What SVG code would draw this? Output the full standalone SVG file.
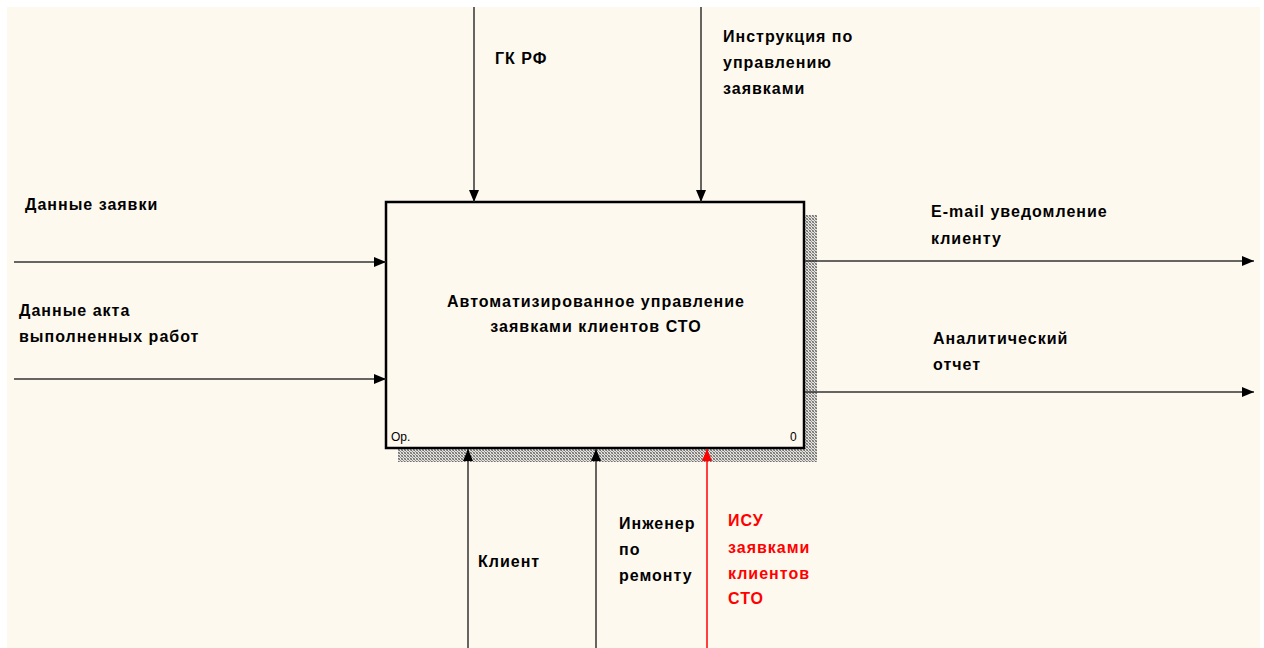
<svg xmlns="http://www.w3.org/2000/svg" width="1264" height="648" viewBox="0 0 1264 648">
  <style>
    .lbl { font-family: "Liberation Sans", Arial, sans-serif; font-weight: bold; font-size: 16px; letter-spacing: 1px; fill: #000; }
    .red { fill: #ff0000; }
    .small { font-family: "Liberation Sans", Arial, sans-serif; font-size: 12px; fill: #000; }
    .arrow { stroke: #333; stroke-width: 1.5; fill: none; }
    .arrow-red { stroke: #ff0000; stroke-width: 1.5; fill: none; }
  </style>
  <defs>
    <pattern id="hatch" width="3" height="3" patternUnits="userSpaceOnUse">
      <rect width="3" height="3" fill="#e6e3dc"/>
      <rect x="0" y="0" width="1" height="1" fill="#707070"/>
      <rect x="1" y="1" width="1" height="1" fill="#909090"/>
      <rect x="2" y="2" width="1" height="1" fill="#707070"/>
      <rect x="2" y="0" width="1" height="1" fill="#a0a0a0"/>
      <rect x="0" y="2" width="1" height="1" fill="#a0a0a0"/>
    </pattern>
    <marker id="ah" viewBox="0 0 12 10" refX="12" refY="5" markerWidth="12" markerHeight="10" markerUnits="userSpaceOnUse" orient="auto">
      <path d="M0,0 L12,5 L0,10 Z" fill="#000"/>
    </marker>
    <marker id="ahRed" viewBox="0 0 12 10" refX="12" refY="5" markerWidth="12" markerHeight="10" markerUnits="userSpaceOnUse" orient="auto">
      <path d="M0,0 L12,5 L0,10 Z" fill="#ff0000"/>
    </marker>
  </defs>

  <!-- page -->
  <rect width="1264" height="648" fill="#ffffff"/>
  <rect x="7" y="7" width="1253" height="641" fill="#fef9ef"/>

  <!-- activity box A0 -->
  <g id="node-a0">
    <rect x="805" y="215" width="12" height="247" fill="url(#hatch)"/>
    <rect x="398" y="449" width="419" height="13" fill="url(#hatch)"/>
    <rect x="386" y="202" width="418" height="246" fill="#fef9ef" stroke="#000" stroke-width="2.5"/>
    <text class="lbl" x="596" y="307" text-anchor="middle">Автоматизированное управление</text>
    <text class="lbl" x="596" y="332" text-anchor="middle">заявками клиентов СТО</text>
    <text class="small" x="391" y="441">Ор.</text>
    <text class="small" x="790" y="441">0</text>
  </g>

  <!-- connectors -->
  <g id="connectors">
    <line class="arrow" x1="474" y1="7" x2="474" y2="202" marker-end="url(#ah)"/>
    <line class="arrow" x1="701" y1="7" x2="701" y2="202" marker-end="url(#ah)"/>
    <line class="arrow" x1="14" y1="262" x2="386" y2="262" marker-end="url(#ah)"/>
    <line class="arrow" x1="14" y1="379" x2="386" y2="379" marker-end="url(#ah)"/>
    <line class="arrow" x1="805" y1="261" x2="1254" y2="261" marker-end="url(#ah)"/>
    <line class="arrow" x1="805" y1="392" x2="1254" y2="392" marker-end="url(#ah)"/>
    <line class="arrow" x1="468" y1="648" x2="468" y2="449" marker-end="url(#ah)"/>
    <line class="arrow" x1="596" y1="648" x2="596" y2="449" marker-end="url(#ah)"/>
    <line class="arrow-red" x1="707" y1="648" x2="707" y2="449" marker-end="url(#ahRed)"/>
  </g>

  <!-- control labels -->
  <g id="ctrl-gk">
    <text class="lbl" x="495" y="64">ГК РФ</text>
  </g>
  <g id="ctrl-instr">
    <text class="lbl" x="723" y="42">Инструкция по</text>
    <text class="lbl" x="723" y="68">управлению</text>
    <text class="lbl" x="723" y="94">заявками</text>
  </g>

  <!-- input labels -->
  <g id="in-request">
    <text class="lbl" x="25" y="210">Данные заявки</text>
  </g>
  <g id="in-act">
    <text class="lbl" x="19" y="316">Данные акта</text>
    <text class="lbl" x="19" y="342">выполненных работ</text>
  </g>

  <!-- output labels -->
  <g id="out-email">
    <text class="lbl" x="931" y="217">E-mail уведомление</text>
    <text class="lbl" x="931" y="244">клиенту</text>
  </g>
  <g id="out-report">
    <text class="lbl" x="933" y="344">Аналитический</text>
    <text class="lbl" x="933" y="370">отчет</text>
  </g>

  <!-- mechanism labels -->
  <g id="mech-client">
    <text class="lbl" x="478" y="567">Клиент</text>
  </g>
  <g id="mech-engineer">
    <text class="lbl" x="619" y="529">Инженер</text>
    <text class="lbl" x="619" y="555">по</text>
    <text class="lbl" x="619" y="581">ремонту</text>
  </g>
  <g id="mech-isu">
    <text class="lbl red" x="728" y="526">ИСУ</text>
    <text class="lbl red" x="728" y="553">заявками</text>
    <text class="lbl red" x="728" y="579">клиентов</text>
    <text class="lbl red" x="728" y="604">СТО</text>
  </g>
</svg>
